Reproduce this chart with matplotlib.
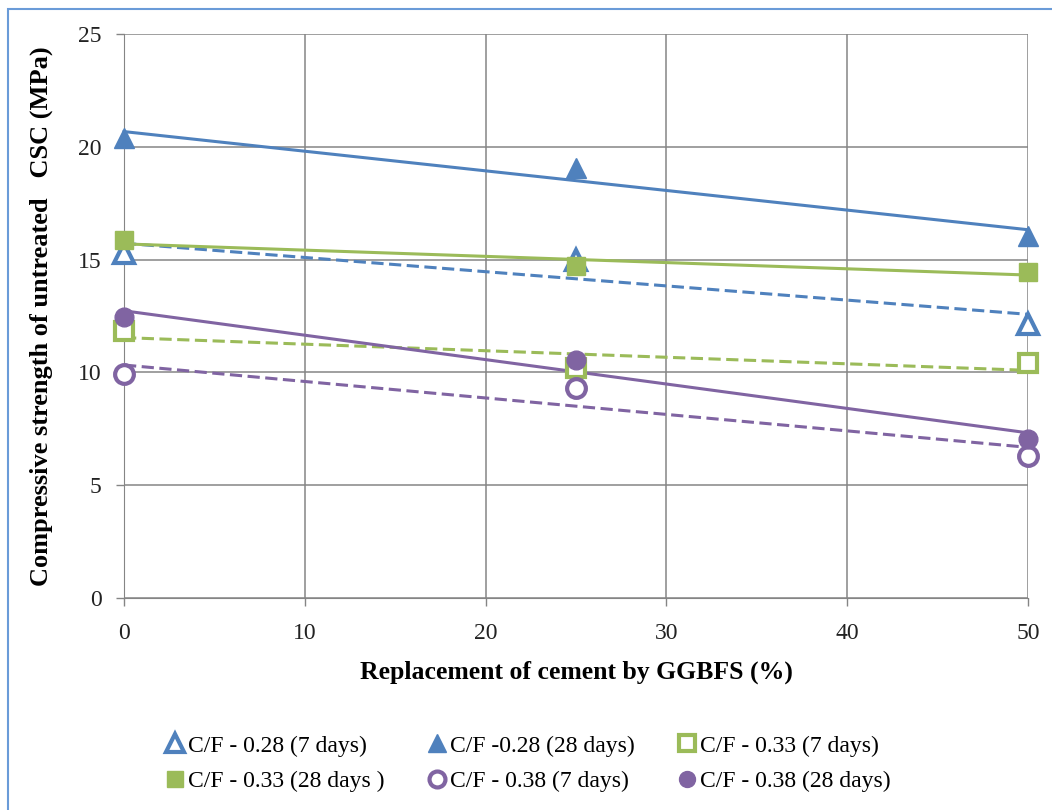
import matplotlib
matplotlib.use("Agg")
import matplotlib.pyplot as plt
from matplotlib.patches import Rectangle
import numpy as np

plt.rcParams['font.family'] = ['Liberation Serif', 'DejaVu Serif']

# replacement of cement by GGBFS (%)
ggbfs = [0, 25, 50]

# compressive strength (MPa)
cf028_7d = [15.3, 15.0, 12.15]
cf028_28d = [20.4, 19.05, 16.05]
cf033_7d = [11.85, 10.2, 10.4]
cf033_28d = [15.85, 14.7, 14.47]
cf038_7d = [9.93, 9.3, 6.28]
cf038_28d = [12.47, 10.55, 7.06]

labels = ["C/F - 0.28 (7 days)", "C/F -0.28 (28 days)", "C/F - 0.33 (7 days)",
          "C/F - 0.33 (28 days )", "C/F - 0.38 (7 days)", "C/F - 0.38 (28 days)"]

blue = "#4F81BD"
green = "#9BBB59"
purple = "#8064A2"

series = [
    (cf028_7d, blue, "^", False),
    (cf028_28d, blue, "^", True),
    (cf033_7d, green, "s", False),
    (cf033_28d, green, "s", True),
    (cf038_7d, purple, "o", False),
    (cf038_28d, purple, "o", True),
]

fig = plt.figure(figsize=(10.52, 8.10), dpi=100)
ax = fig.add_axes([0.1179, 0.2617, 0.8593, 0.6963])

# outer chart border (light blue, only left/top visible in crop)
fig.patches.append(Rectangle((8 / 1052, -0.05), 1.2, 1 - 9 / 810 + 0.05,
                             transform=fig.transFigure, fill=False,
                             edgecolor="#6A9BD8", linewidth=1.5, zorder=0))

x = np.array(ggbfs, dtype=float)
xx = np.array([0, 50])
handles = []
for vals, col, mk, filled in series:
    # linear trend line (Excel style)
    k, b = np.polyfit(x, vals, 1)
    ax.plot(xx, k * xx + b, color=col, lw=2.2,
            ls="-" if filled else (0, (4, 1.8)), zorder=3, clip_on=False)
    h = ax.plot(x, vals, ls="none", marker=mk, ms=15 if mk == "^" else 13.5,
                markerfacecolor=col if filled else "white",
                markeredgecolor=col, markeredgewidth=1 if filled else 3,
                zorder=4, clip_on=False)[0]
    handles.append(h)

ax.set_xlim(0, 50)
ax.set_ylim(0, 25)
ax.set_xticks(range(0, 51, 10))
ax.set_yticks(range(0, 26, 5))
ax.grid(True, color="#858585", lw=1.1)
ax.set_axisbelow(True)
for s in ["top", "right"]:
    ax.spines[s].set_visible(False)
ax.spines["left"].set_color("#858585")
ax.spines["bottom"].set_color("#858585")
ax.tick_params(axis="both", colors="#858585", labelcolor="#222222",
               labelsize=17, length=6, width=1)
ax.tick_params(axis="x", pad=12)
ax.tick_params(axis="y", pad=10)

ax.set_xlabel("Replacement of cement by GGBFS (%)", fontsize=18.5,
              fontweight="bold", labelpad=12)
ax.set_ylabel("Compressive strength of untreated   CSC (MPa)", fontsize=19,
              fontweight="bold", labelpad=18)

# legend filled row-wise like the reference
order = [0, 3, 1, 4, 2, 5]
leg = fig.legend([handles[i] for i in order], [labels[i] for i in order],
                 loc="center", bbox_to_anchor=(0.502, 0.057),
                 ncol=3, frameon=False, fontsize=17, handlelength=0.8,
                 handletextpad=0.15, columnspacing=1.8, labelspacing=0.6,
                 markerscale=0.85)

fig.savefig("out.png", dpi=100)
